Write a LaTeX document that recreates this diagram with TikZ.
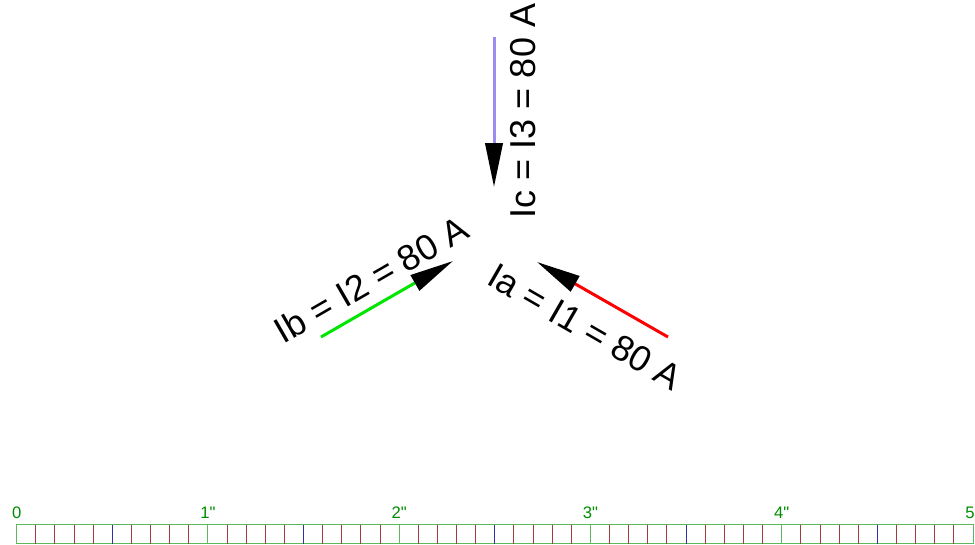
\documentclass[tikz,border=0pt]{standalone}
\usepackage{fontspec}
\setmainfont{Liberation Sans}
\usetikzlibrary{arrows.meta}
\definecolor{phasea}{HTML}{FF0000}
\definecolor{phaseb}{HTML}{00E600}
\definecolor{phasec}{HTML}{9B8CF0}
\definecolor{rulergreen}{HTML}{5CB85C}
\definecolor{rulerlabel}{HTML}{008C00}
\definecolor{rulerred}{HTML}{A03C3C}
\definecolor{rulerblue}{HTML}{3030A0}

\begin{document}
\begin{tikzpicture}[x=0.75pt,y=-0.75pt,
    phasor/.style={line width=2.25pt,-{Triangle[length=33pt,width=13pt,black]}},
    phaselabel/.style={font=\fontsize{27}{32}\selectfont,inner sep=0pt},
    rulerlabel/.style={font=\fontsize{12.5}{14}\selectfont,text=rulerlabel,inner sep=0pt}]
  \useasboundingbox (0,0) rectangle (975,544);
  % phasors
  \coordinate (Ictail) at (494,37);
  \coordinate (Ichead) at (494,187);
  \coordinate (Iatail) at (668,337);
  \coordinate (Iahead) at (537,262);
  \coordinate (Ibtail) at (321,337);
  \coordinate (Ibhead) at (453,261);
  \draw[phasor,phasec] (Ictail) -- (Ichead);
  \draw[phasor,phasea] (Iatail) -- (Iahead);
  \draw[phasor,phaseb] (Ibtail) -- (Ibhead);
  \node[phaselabel,rotate=90] (Iclabel) at (523,111) {Ic = I3 = 80 A};
  \node[phaselabel,rotate=-30] (Ialabel) at (585,327) {Ia = I1 = 80 A};
  \node[phaselabel,rotate=30] (Iblabel) at (371,279) {Ib = I2 = 80 A};
  % ruler
  \draw[rulergreen,line width=0.75pt] (16.7,524.7) rectangle (973,543.5);
  \foreach \i in {1,...,49}{
    \pgfmathtruncatemacro{\tickmod}{mod(\i,10)}
    \pgfmathtruncatemacro{\halfmod}{mod(\i,5)}
    \ifnum\tickmod=0 \def\tickcol{rulergreen}\else\ifnum\halfmod=0 \def\tickcol{rulerblue}\else\def\tickcol{rulerred}\fi\fi
    \draw[\tickcol,line width=0.75pt] (16.7+19.126*\i,524.7) -- (16.7+19.126*\i,543.5);
  }
  \node[rulerlabel,anchor=base] (inch0) at (16.7,518) {0};
  \foreach \n in {1,...,4}
    \node[rulerlabel,anchor=base] (inch\n) at (16.7+191.26*\n,518) {\n\textquotedbl};
  \node[rulerlabel,anchor=base east] (inch5) at (975,518) {5};
\end{tikzpicture}
\end{document}
